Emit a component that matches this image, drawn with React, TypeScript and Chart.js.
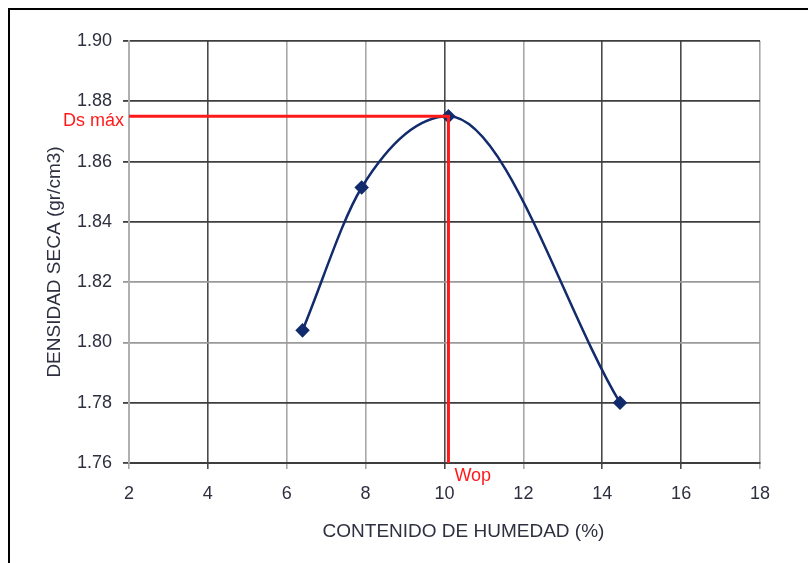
import React, { useEffect, useRef } from "react";
import { Chart, registerables } from "chart.js";

Chart.register(...registerables);

// ---- data ----
const humedad = [6.4, 7.9, 10.1, 14.45];
const densidad = [1.804, 1.8514, 1.875, 1.78];
const dsMax = 1.875;
const wop = 10.1;
const xTicks = [2, 4, 6, 8, 10, 12, 14, 16, 18];
const yTicks = [1.76, 1.78, 1.8, 1.82, 1.84, 1.86, 1.88, 1.9];
const xTitle = "CONTENIDO DE HUMEDAD (%)";
const yTitle = "DENSIDAD SECA (gr/cm3)";
const dsLabel = "Ds máx";
const wopLabel = "Wop";

const FONT = '"Liberation Sans", Arial, sans-serif';
const TEXT = "#2e3040";
const NAVY = "#112b6c";
const RED = "#ff1a1a";

const labelsPlugin = {
  id: "refLabels",
  afterDatasetsDraw(chart: any) {
    const { ctx, chartArea, scales } = chart;
    const yPix = scales.y.getPixelForValue(dsMax);
    const xPix = scales.x.getPixelForValue(wop);
    ctx.save();
    ctx.fillStyle = RED;
    ctx.font = `18px ${FONT}`;
    ctx.textAlign = "right";
    ctx.textBaseline = "middle";
    ctx.fillText(dsLabel, chartArea.left - 5, yPix + 5);
    ctx.textAlign = "left";
    ctx.fillText(wopLabel, xPix + 6, chartArea.bottom + 13);

    // axis titles
    ctx.fillStyle = TEXT;
    ctx.font = `19px ${FONT}`;
    ctx.textAlign = "center";
    ctx.textBaseline = "middle";
    const cx = (chartArea.left + chartArea.right) / 2;
    const cy = (chartArea.top + chartArea.bottom) / 2;
    ctx.fillText(xTitle, cx + 19, chartArea.bottom + 69);
    ctx.translate(55, cy + 10);
    ctx.rotate(-Math.PI / 2);
    ctx.fillText(yTitle, 0, 0);
    ctx.restore();
  },
};

const lightX = new Set([2, 6, 8, 12, 18]);
const lightY = new Set([1.82, 1.8]);

export default function App() {
  const ref = useRef<HTMLCanvasElement | null>(null);
  useEffect(() => {
    if (!ref.current) return;
    const chart = new Chart(ref.current, {
      type: "line",
      data: {
        datasets: [
          {
            label: "ref",
            data: [
              { x: xTicks[0], y: dsMax },
              { x: wop, y: dsMax },
              { x: wop, y: yTicks[0] },
            ],
            borderColor: RED,
            borderWidth: 3,
            pointRadius: 0,
            tension: 0,
            order: 0,
          },
          {
            label: "curva",
            data: humedad.map((x, i) => ({ x, y: densidad[i] })),
            borderColor: NAVY,
            backgroundColor: NAVY,
            borderWidth: 2.5,
            cubicInterpolationMode: "monotone",
            pointStyle: "rectRot",
            pointRadius: 5.5,
            pointBackgroundColor: NAVY,
            pointBorderColor: NAVY,
            order: 1,
          },
        ],
      },
      options: {
        animation: false,
        responsive: false,
        devicePixelRatio: 1,
        layout: { padding: { top: 41, right: 48, left: 0, bottom: 0 } },
        plugins: {
          legend: { display: false },
          tooltip: { enabled: false },
        },
        scales: {
          x: {
            type: "linear",
            min: xTicks[0],
            max: xTicks[xTicks.length - 1],
            afterFit: (s: any) => {
              s.height = 100;
            },
            afterBuildTicks: (s: any) => {
              s.ticks = xTicks.map((v) => ({ value: v }));
            },
            ticks: {
              color: TEXT,
              font: { family: FONT, size: 18 },
              padding: 14,
              maxRotation: 0,
              callback: (v: any) => String(v),
            },
            grid: {
              color: (c: any) => (lightX.has(c.tick?.value) ? "#a8a8a8" : "#4a4a4a"),
              lineWidth: 1.6,
              tickLength: 6,
              drawTicks: true,
            },
            border: { color: "#3e3e3e", width: 2 },
            title: { display: false },
          },
          y: {
            type: "linear",
            min: yTicks[0],
            max: yTicks[yTicks.length - 1],
            afterFit: (s: any) => {
              s.width = 129;
            },
            afterBuildTicks: (s: any) => {
              s.ticks = yTicks.map((v) => ({ value: v }));
            },
            ticks: {
              color: TEXT,
              font: { family: FONT, size: 18 },
              padding: 11,
              callback: (v: any) => Number(v).toFixed(2),
            },
            grid: {
              color: (c: any) =>
                lightY.has(Math.round((c.tick?.value ?? 0) * 100) / 100) ? "#9a9a9a" : "#3e3e3e",
              lineWidth: 1.8,
              tickLength: 6,
              drawTicks: true,
            },
            border: { color: "#b0b0b0", width: 2 },
            title: { display: false },
          },
        },
      },
      plugins: [labelsPlugin],
    } as any);
    return () => chart.destroy();
  }, []);

  return (
    <div
      style={{
        position: "fixed",
        left: 0,
        top: 0,
        width: 808,
        height: 563,
        overflow: "hidden",
        background: "#fff",
      }}
    >
      <div
        style={{
          position: "absolute",
          left: 8,
          top: 8,
          width: 900,
          height: 700,
          borderLeft: "2px solid #000",
          borderTop: "2px solid #000",
        }}
      />
      <canvas
        ref={ref}
        width={808}
        height={563}
        style={{ position: "absolute", left: 0, top: 0, width: 808, height: 563 }}
      />
    </div>
  );
}
